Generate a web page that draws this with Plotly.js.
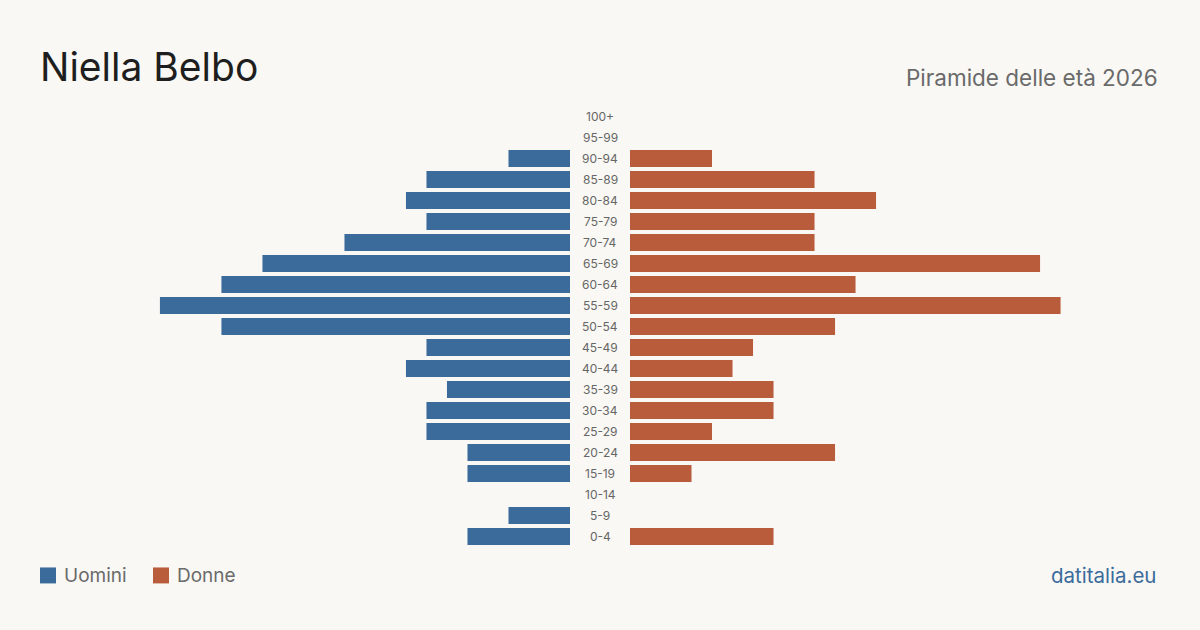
<!DOCTYPE html>
<html>
<head>
<meta charset="utf-8">
<script src="https://cdn.plot.ly/plotly-3.0.1.min.js"></script>
<style>
html,body{margin:0;padding:0;background:#f9f8f4;}
#chart{width:1200px;height:630px;}
</style>
</head>
<body>
<div id="chart"></div>
<script>
const ageGroups = ["100+","95-99","90-94","85-89","80-84","75-79","70-74","65-69","60-64","55-59","50-54","45-49","40-44","35-39","30-34","25-29","20-24","15-19","10-14","5-9","0-4"];
const men   = [0,0,3,7,8,7,11,15,17,20,17,7,8,6,7,7,5,5,0,3,5];
const women = [0,0,4,9,12,9,9,20,11,21,10,6,5,7,7,4,10,3,0,0,7];
const seriesNames = ["Uomini","Donne"];
const seriesColors = ["#3b6b9b","#b95c3c"];
const chartTitle = "Niella Belbo";
const chartSubtitle = "Piramide delle età 2026";
const sourceLabel = "datitalia.eu";

const FONT = "Inter, 'Noto Sans', sans-serif";
const maxRange = 27.8;
const W = 1200, H = 630, MT = 105.5, MB = 82.5;
const PH = H - MT - MB;
const px = x => x / W;
const py = y => (H - MB - y) / PH;

const traces = [
  {type:"bar", orientation:"h", name:seriesNames[0], y:ageGroups, x:men,
   xaxis:"x", yaxis:"y", marker:{color:seriesColors[0]}, hoverinfo:"skip", showlegend:false},
  {type:"bar", orientation:"h", name:seriesNames[1], y:ageGroups, x:women,
   xaxis:"x2", yaxis:"y2", marker:{color:seriesColors[1]}, hoverinfo:"skip", showlegend:false}
];

const yCommon = {type:"category", categoryorder:"array", categoryarray:ageGroups.slice().reverse(),
  showticklabels:false, showgrid:false, zeroline:false, showline:false, ticks:"", fixedrange:true};

const annotations = ageGroups.map(g => ({
  xref:"paper", yref:"y", x:0.5, y:g, text:g, showarrow:false,
  xanchor:"center", yanchor:"middle", font:{family:FONT, size:12, color:"#666"}
}));

annotations.push(
  {xref:"paper", yref:"paper", x:px(38), y:py(66), xanchor:"left", yanchor:"middle",
   text:chartTitle, showarrow:false, font:{family:FONT, size:39, color:"#1e1e1e"}},
  {xref:"paper", yref:"paper", x:px(1160), y:py(76.5), xanchor:"right", yanchor:"middle",
   text:chartSubtitle, showarrow:false, font:{family:FONT, size:22.5, color:"#6a6a6a"}},
  {xref:"paper", yref:"paper", x:px(62), y:py(576), xanchor:"left", yanchor:"middle",
   text:seriesNames[0], showarrow:false, font:{family:FONT, size:19, color:"#6a6a6a"}},
  {xref:"paper", yref:"paper", x:px(175), y:py(576), xanchor:"left", yanchor:"middle",
   text:seriesNames[1], showarrow:false, font:{family:FONT, size:19, color:"#6a6a6a"}},
  {xref:"paper", yref:"paper", x:px(1158), y:py(576), xanchor:"right", yanchor:"middle",
   text:sourceLabel, showarrow:false, font:{family:FONT, size:20.5, color:"#3b6b9b"}}
);

const shapes = [
  {type:"rect", xref:"paper", yref:"paper", x0:px(40), x1:px(56), y0:py(584), y1:py(568),
   fillcolor:seriesColors[0], line:{width:0}},
  {type:"rect", xref:"paper", yref:"paper", x0:px(153), x1:px(169), y0:py(584), y1:py(568),
   fillcolor:seriesColors[1], line:{width:0}}
];

const layout = {
  width:W, height:H,
  paper_bgcolor:"#f9f8f4", plot_bgcolor:"#f9f8f4",
  margin:{l:0, r:0, t:MT, b:MB},
  bargap:0.19,
  showlegend:false,
  xaxis:{domain:[0,570/W], range:[maxRange,0], showticklabels:false, showgrid:false, zeroline:false, showline:false, fixedrange:true},
  xaxis2:{domain:[630/W,1], range:[0,maxRange], showticklabels:false, showgrid:false, zeroline:false, showline:false, fixedrange:true},
  yaxis:Object.assign({anchor:"x"}, yCommon),
  yaxis2:Object.assign({anchor:"x2", matches:"y"}, yCommon),
  annotations:annotations,
  shapes:shapes,
  font:{family:FONT}
};

Plotly.newPlot("chart", traces, layout, {displayModeBar:false, staticPlot:true});
</script>
</body>
</html>
